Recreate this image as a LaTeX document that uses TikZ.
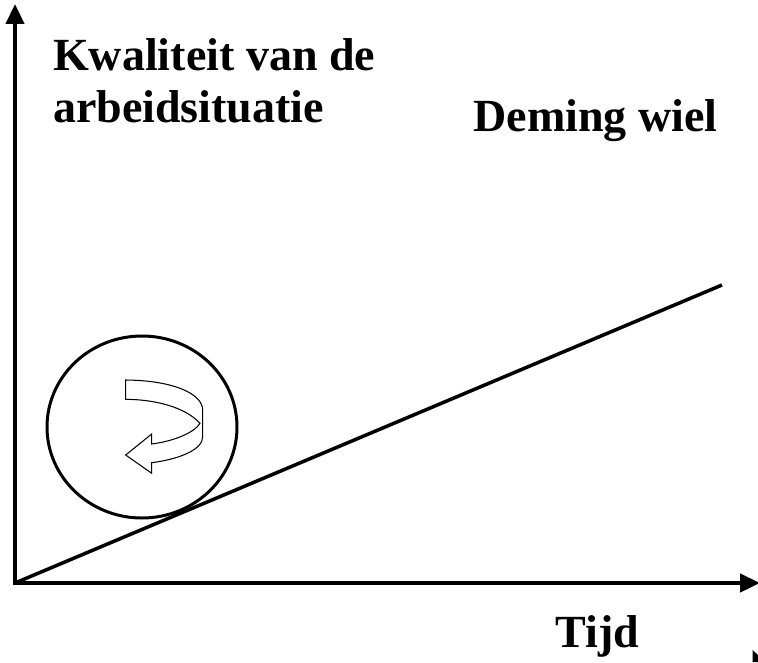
\documentclass[tikz,border=0pt]{standalone}
\usepackage{fontspec}
\setmainfont{Liberation Serif}
\usetikzlibrary{arrows.meta}
\tikzset{
  axis/.style={line width=2.6pt, line cap=rect, -{Triangle[length=0.4cm,width=0.36cm]}},
  lbl/.style={inner sep=0pt, anchor=base west, font=\fontsize{26.2}{30}\selectfont\bfseries}
}
\begin{document}
\begin{tikzpicture}
\useasboundingbox (0,0) rectangle (15.16,13.24);
\coordinate (O) at (0.30,1.58);
\coordinate (ytop) at (0.30,13.16);
\coordinate (xend) at (15.2,1.58);
\coordinate (trend) at (14.44,7.54);
\draw [axis] (O) -- (ytop);
\draw [axis] (O) -- (xend);
\draw [line width=2pt] (O) -- (trend);
% the wheel
\draw [line width=1.7pt] (2.84,4.70) ellipse (1.90 and 1.82);
\draw [line width=0.6pt, line join=miter] (2.514,5.64)
  .. controls (3.5,5.63) and (4.054,5.35) .. (4.054,5.04)
  -- (4.054,4.506)
  .. controls (4.054,4.25) and (3.6,4.06) .. (3.034,3.986)
  -- (3.034,3.774) -- (2.514,4.14) -- (3.034,4.56) -- (3.034,4.36)
  .. controls (3.5,4.42) and (3.9,4.6) .. (4.0,4.774)
  .. controls (3.7,5.1) and (3.1,5.25) .. (2.514,5.254) -- cycle;
% labels
\node [lbl] (ylab1) at (1.054,11.826) {Kwaliteit van de};
\node [lbl] (ylab2) at (1.054,10.78) {arbeidsituatie};
\node [lbl] (title) at (9.46,10.6) {Deming wiel};
\node [lbl] (xlab) at (11.1,0.30) {Tijd};
\fill (15.05,0.24) -- (15.16,0.14) -- (15.16,0) -- (15.05,0) -- cycle;
\end{tikzpicture}
\end{document}
